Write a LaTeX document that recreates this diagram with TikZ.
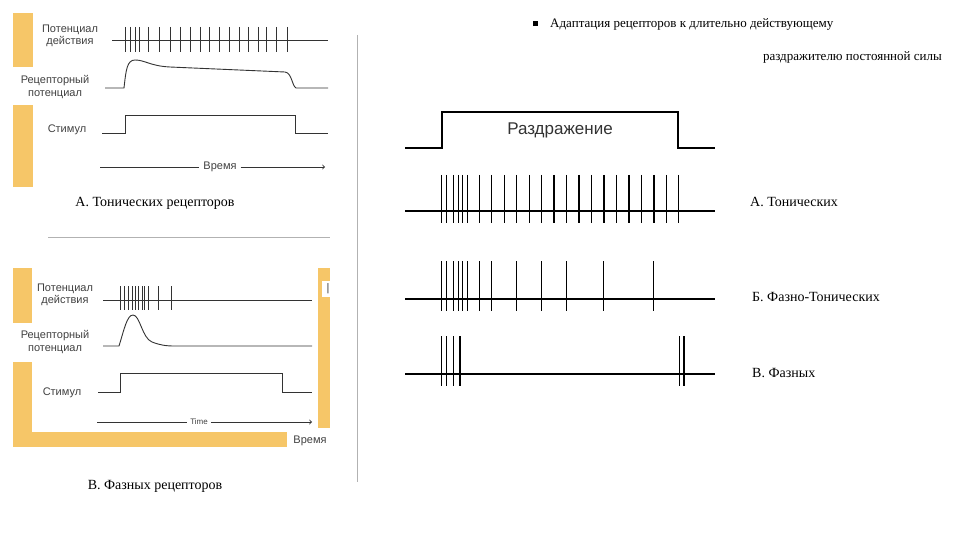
\documentclass[tikz,border=0pt]{standalone}
\usepackage{fontspec}
\setmainfont{Liberation Serif}
\newfontfamily\sansf{Liberation Sans}
\definecolor{og}{RGB}{246,198,104}
\begin{document}
\begin{tikzpicture}[x=1pt,y=-1pt,
  lab/.style={font=\sansf\fontsize{11}{12.5}\selectfont,text=black!75,align=center,inner sep=0},
  captxt/.style={font=\fontsize{14}{16}\selectfont,inner sep=0},
  orng/.style={fill=og,draw=none},
  sig/.style={line width=0.9pt,black!80},
  sp/.style={line width=0.9pt,black!80},
  bs/.style={line width=1.8pt},
  bsp/.style={line width=1.6pt}]
\useasboundingbox (0,0) rectangle (960,540);
% separators
\draw[gray!60,line width=1pt] (357,35) -- (357,482);
\draw[gray!60,line width=1pt] (48,237) -- (330,237);
% ===== top-left panel =====
\fill[orng] (13,13) rectangle (33,67);
\fill[orng] (13,105) rectangle (33,187);
\node[lab] (ta) at (70,36) {Потенциал\\действия};
\draw[sig] (112,40) -- (328,40);
\foreach \x in {375,392,405,418,445,478,510,540,570,600,628,658,688,718,745,775,800,830,862}
  \draw[sp] ({\x/3},27) -- ({\x/3},52);
\node[lab] (tr) at (55,87) {Рецепторный\\потенциал};
\draw[sig] (105,88) -- (124,88) .. controls (126,70) and (127,60) .. (135,60)
  .. controls (145,60) and (150,66) .. (170,67) -- (285,72) .. controls (292,73) and (292,86) .. (296,88) -- (328,88);
\node[lab] (ts) at (67,130) {Стимул};
\draw[sig] (102,133) -- (125,133) -- (125,115) -- (295,115) -- (295,133) -- (328,133);
\node[lab] (tt) at (220,167) {Время};
\draw[sig] (100,167) -- ([xshift=-4pt]tt.west);
\draw[sig,->] ([xshift=4pt]tt.east) -- (325,167);
\node[captxt] (ca) at (155,203) {А. Тонических рецепторов};
% ===== bottom-left panel =====
\fill[orng] (13,268) rectangle (32,323);
\fill[orng] (13,362) rectangle (32,447);
\fill[orng] (13,432) rectangle (287,447);
\fill[orng] (318,268) rectangle (330,428);
\fill[white] (322,281) rectangle (332,297);
\node[lab] (bI) at (328,289) {|};
\node[lab] (ba) at (65,295) {Потенциал\\действия};
\draw[sig] (103,300) -- (312,300);
\foreach \x in {120,124,128,132,135,138,142,144,148,158,171}
  \draw[sp] (\x,286) -- (\x,310);
\node[lab] (br) at (55,342) {Рецепторный\\потенциал};
\draw[sig] (103,346) -- (119,346) .. controls (124,330) and (127,315) .. (133,315)
  .. controls (140,315) and (142,338) .. (152,342) .. controls (160,345) and (165,346) .. (175,346) -- (312,346);
\node[lab] (bs) at (62,393) {Стимул};
\draw[sig] (98,392) -- (120,392) -- (120,373) -- (282,373) -- (282,392) -- (312,392);
\node[lab,font=\sansf\fontsize{8}{9}\selectfont] (bt) at (199,422) {Time};
\draw[sig] (97,422) -- ([xshift=-3pt]bt.west);
\draw[sig,->] ([xshift=3pt]bt.east) -- (312,422);
\node[lab] (bv) at (310,441) {Время};
\node[captxt] (cb) at (155,486) {В. Фазных рецепторов};
% ===== right panel =====
\node[captxt,anchor=west,font=\fontsize{13}{15}\selectfont] (h1) at (533,24) {\rule[1pt]{5pt}{5pt}\hspace{12pt}Адаптация рецепторов к длительно действующему};
\node[captxt,anchor=east,font=\fontsize{13}{15}\selectfont] (h2) at (942,57) {раздражителю постоянной силы};
\draw[bs] (405,148) -- (442,148) -- (442,112) -- (678,112) -- (678,148) -- (715,148);
\node[font=\sansf\fontsize{17}{19}\selectfont,text=black!80] (rz) at (560,130) {Раздражение};
\draw[line width=1.3pt] (405,211) -- (715,211);
\foreach \x in {125,140,160,175,188,203,238,275,313,350,388,425,462,500,537,575,612,650,687,725,762,800,835}
  \draw[bsp] ({400+\x/3},175) -- ({400+\x/3},223);
\draw[line width=1.3pt] (405,299) -- (715,299);
\foreach \x in {125,140,160,175,188,203,238,275,350,425,500,610,760}
  \draw[bsp] ({400+\x/3},261) -- ({400+\x/3},311);
\draw[line width=1.3pt] (405,374) -- (715,374);
\foreach \x in {125,140,160,180,838,852}
  \draw[bsp] ({400+\x/3},336) -- ({400+\x/3},386);
\node[captxt,anchor=west] (la) at (750,202) {А. Тонических};
\node[captxt,anchor=west] (lb) at (752,297) {Б. Фазно-Тонических};
\node[captxt,anchor=west] (lc) at (752,373) {В. Фазных};
\end{tikzpicture}
\end{document}
